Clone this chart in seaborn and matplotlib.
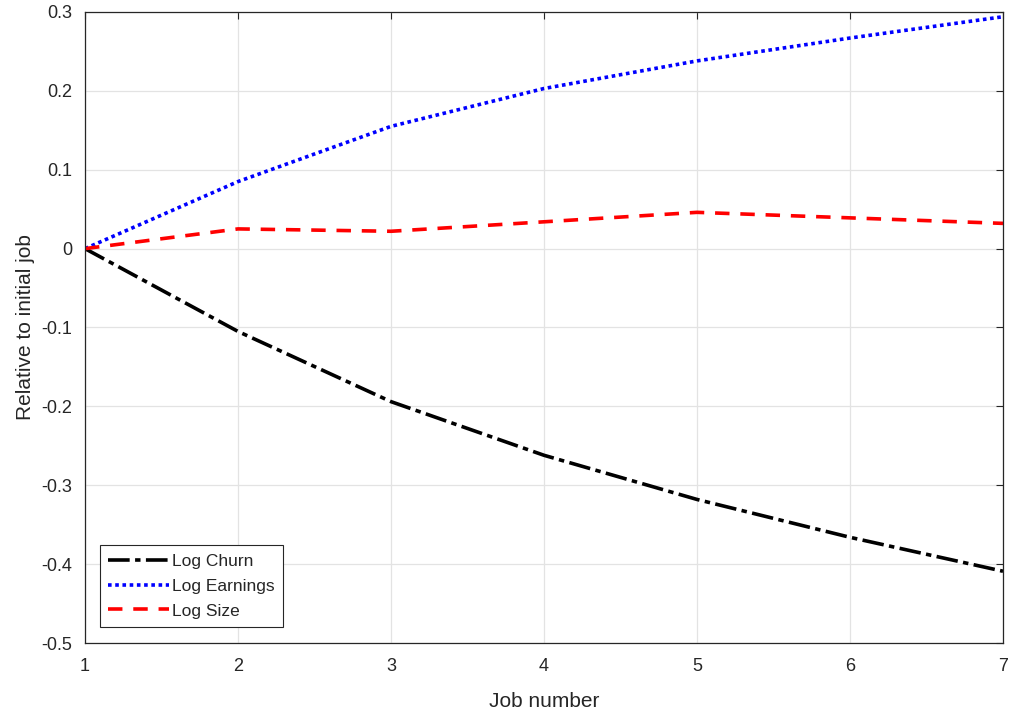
import matplotlib
matplotlib.use("Agg")
import matplotlib.pyplot as plt
import seaborn as sns
import pandas as pd

jobs = [1, 2, 3, 4, 5, 6, 7]
log_churn = [0.0, -0.105, -0.194, -0.262, -0.318, -0.366, -0.409]
log_earnings = [0.0, 0.085, 0.155, 0.203, 0.238, 0.267, 0.294]
log_size = [0.0, 0.025, 0.022, 0.034, 0.046, 0.039, 0.032]
series_names = ["Log Churn", "Log Earnings", "Log Size"]
xticks = [1, 2, 3, 4, 5, 6, 7]
yticks = [-0.5, -0.4, -0.3, -0.2, -0.1, 0, 0.1, 0.2, 0.3]
ytick_labels = ["-0.5", "-0.4", "-0.3", "-0.2", "-0.1", "0", "0.1", "0.2", "0.3"]

sns.set_theme(style="white")
plt.rcParams['font.family'] = ['Liberation Sans', 'DejaVu Sans']

df = pd.DataFrame({
    "job": jobs * 3,
    "value": log_churn + log_earnings + log_size,
    "series": sum([[n] * len(jobs) for n in series_names], []),
})

fig, ax = plt.subplots(figsize=(10.09, 7.13), dpi=100)
fig.subplots_adjust(left=85/1009, right=1003/1009, top=1-12/713, bottom=1-643/713)

palette = {"Log Churn": "black", "Log Earnings": "#0000ff", "Log Size": "#ff0000"}
styles = {"Log Churn": (0, (6, 1.5, 1.5, 1.5)), "Log Earnings": (0, (1, 1)), "Log Size": (0, (4, 3))}

for name in series_names:
    sub = df[df["series"] == name]
    sns.lineplot(data=sub, x="job", y="value", ax=ax, color=palette[name],
                 linewidth=2.6, label=name)
    ax.lines[-1].set_linestyle(styles[name])

ax.set_xlim(1, 7)
ax.set_ylim(-0.5, 0.3)
ax.set_xticks(xticks)
ax.set_xticklabels([str(t) for t in xticks])
ax.set_yticks(yticks)
ax.set_yticklabels(ytick_labels)
ax.grid(True, color="#e3e3e3", linewidth=0.9)
ax.set_axisbelow(True)
for sp in ax.spines.values():
    sp.set_visible(True)
    sp.set_color("#262626")
    sp.set_linewidth(0.9)
ax.tick_params(direction="in", length=5, width=0.8, colors="#262626", labelsize=13,
               top=True, right=True, labelcolor="#262626")
ax.tick_params(axis="x", pad=11)
ax.tick_params(axis="y", pad=9)
ax.set_xlabel("Job number", fontsize=15, color="#262626", labelpad=12)
ax.set_ylabel("Relative to initial job", fontsize=15, color="#262626", labelpad=5)

leg = ax.legend(loc="lower left", bbox_to_anchor=(0.016, 0.025), fontsize=12.5,
                frameon=True, fancybox=False, edgecolor="#262626", framealpha=1,
                handlelength=3.5, handletextpad=0.15, borderpad=0.5, labelspacing=0.55,
                borderaxespad=0)
leg.get_frame().set_linewidth(0.8)

fig.savefig("out.png", dpi=100)
